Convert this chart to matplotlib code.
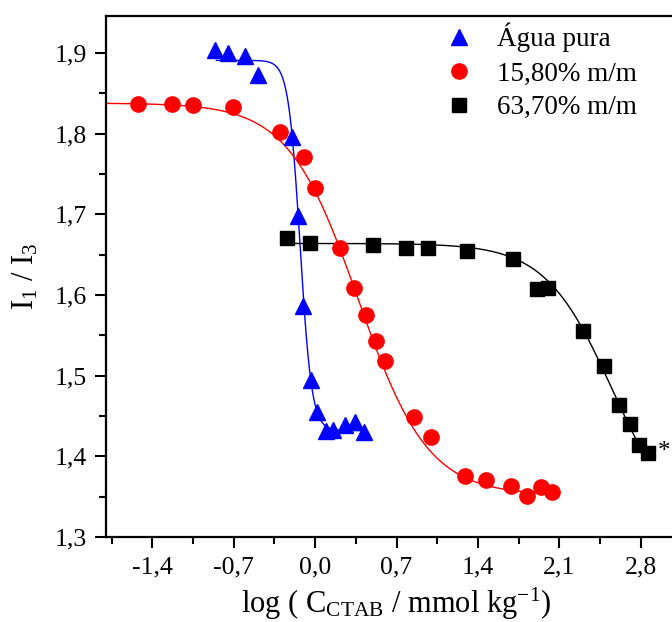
import numpy as np
import matplotlib
matplotlib.use("Agg")
import matplotlib.pyplot as plt

plt.rcParams['font.family'] = ['Liberation Serif', 'DejaVu Serif']
plt.rcParams['mathtext.fontset'] = 'custom'
plt.rcParams['mathtext.rm'] = 'Liberation Serif'
plt.rcParams['mathtext.it'] = 'Liberation Serif:italic'

# ---- data ----
agua_x = [-0.862, -0.753, -0.606, -0.494, -0.201, -0.150, -0.107, -0.038,
          0.014, 0.091, 0.151, 0.255, 0.341, 0.418]
agua_y = [1.904, 1.900, 1.896, 1.873, 1.796, 1.698, 1.586, 1.495,
          1.455, 1.432, 1.433, 1.439, 1.442, 1.430]

m158_x = [-1.527, -1.234, -1.053, -0.708, -0.304, -0.098, -0.003, 0.212,
          0.332, 0.435, 0.521, 0.599, 0.848, 0.995, 1.287, 1.468, 1.683,
          1.821, 1.942, 2.036]
m158_y = [1.837, 1.837, 1.836, 1.833, 1.802, 1.771, 1.733, 1.658,
          1.609, 1.575, 1.543, 1.518, 1.449, 1.424, 1.376, 1.371, 1.363,
          1.351, 1.362, 1.356]

m637_x = [-0.244, -0.046, 0.495, 0.779, 0.968, 1.304, 1.700, 1.906,
          2.001, 2.302, 2.483, 2.612, 2.707, 2.785, 2.862]
m637_y = [1.671, 1.665, 1.662, 1.658, 1.658, 1.655, 1.645, 1.608,
          1.609, 1.556, 1.512, 1.464, 1.440, 1.414, 1.404]

labels = ['Água pura', '15,80% m/m', '63,70% m/m']

# Boltzmann fit parameters (A1, A2, x0, dx, xstart, xend)
fit_agua = (1.891, 1.432, -0.13, 0.05, -0.85, 0.42)
fit_158 = (1.838, 1.352, 0.37, 0.30, -1.80, 2.04)
fit_637 = (1.664, 1.300, 2.56, 0.29, -0.21, 2.86)

xticks = [-1.4, -0.7, 0.0, 0.7, 1.4, 2.1, 2.8]
yticks = [1.3, 1.4, 1.5, 1.6, 1.7, 1.8, 1.9]


def boltz(p):
    a1, a2, x0, dx, xs, xe = p
    x = np.linspace(xs, xe, 400)
    return x, a2 + (a1 - a2) / (1 + np.exp((x - x0) / dx))


fig = plt.figure(figsize=(6.72, 6.22), dpi=100)
ax = fig.add_axes([106 / 672, 85 / 622, 581 / 672, 521 / 622])

for p, c in [(fit_agua, 'blue'), (fit_158, 'red'), (fit_637, 'black')]:
    fx, fy = boltz(p)
    ax.plot(fx, fy, color=c, lw=1.0)

ax.plot(agua_x, agua_y, '^', color='blue', ms=11, ls='none', label=labels[0])
ax.plot(m158_x, m158_y, 'o', color='red', ms=11, ls='none', label=labels[1])
ax.plot(m637_x, m637_y, 's', color='black', ms=10, ls='none', label=labels[2])

ax.text(2.95, 1.405, '*', fontsize=18, va='center', ha='left')

ax.set_xlim(-1.8, 3.2)
ax.set_ylim(1.3, 1.946)
ax.set_xticks(xticks)
ax.set_xticklabels([f'{v:.1f}'.replace('.', ',') for v in xticks])
ax.set_xticks(np.arange(-1.75, 3.2, 0.35), minor=True)
ax.set_yticks(yticks)
ax.set_yticklabels([f'{v:.1f}'.replace('.', ',') for v in yticks])
ax.set_yticks(np.arange(1.35, 1.95, 0.1), minor=True)

ax.tick_params(which='major', direction='out', length=8, width=1.5,
               labelsize=18.5, pad=6)
ax.tick_params(which='minor', direction='out', length=5, width=1.5)
for s in ax.spines.values():
    s.set_linewidth(1.6)

ax.set_xlabel(r'log ( C$_{\mathrm{CTAB}}$ / mmol kg$^{\mathrm{-1}}$)',
              fontsize=22, labelpad=5)
ax.set_ylabel(r'I$_{\mathrm{1}}$ / I$_{\mathrm{3}}$', fontsize=22, labelpad=10)

leg = fig.legend(loc='upper left', bbox_to_anchor=(443 / 672, 1 - 23 / 622),
                 frameon=False, fontsize=19.5, handlelength=1.2,
                 handletextpad=0.8, labelspacing=0.33, borderpad=0,
                 borderaxespad=0)

fig.savefig('out.png', dpi=100)
